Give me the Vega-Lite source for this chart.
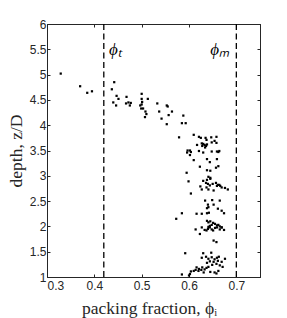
{
  "$schema": "https://vega.github.io/schema/vega-lite/v6.json",
  "width": 213,
  "height": 253,
  "autosize": "none",
  "padding": {"left": 47, "top": 24, "right": 27, "bottom": 41},
  "config": {
    "view": {"stroke": "#262626", "strokeWidth": 1},
    "axis": {
      "domainColor": "#262626",
      "tickColor": "#262626",
      "labelColor": "#262626",
      "titleColor": "#262626",
      "labelFont": "Liberation Sans",
      "labelFontSize": 12,
      "titleFont": "Liberation Serif",
      "titleFontSize": 17.5,
      "titleFontWeight": "normal",
      "grid": false,
      "tickSize": -3
    }
  },
  "datasets": {
    "pts": [
      {"x":0.329,"y":5.02},{"x":0.370,"y":4.77},{"x":0.385,"y":4.64},{"x":0.395,"y":4.67},{"x":0.437,"y":4.71},{"x":0.442,"y":4.85},{"x":0.447,"y":4.58},{"x":0.451,"y":4.52},{"x":0.440,"y":4.45},{"x":0.446,"y":4.39},{"x":0.468,"y":4.56},{"x":0.467,"y":4.43},{"x":0.472,"y":4.45},{"x":0.477,"y":4.44},{"x":0.475,"y":4.39},{"x":0.500,"y":4.62},{"x":0.500,"y":4.52},{"x":0.501,"y":4.46},{"x":0.500,"y":4.41},{"x":0.497,"y":4.39},{"x":0.499,"y":4.33},{"x":0.503,"y":4.33},{"x":0.513,"y":4.52},{"x":0.508,"y":4.27},{"x":0.510,"y":4.22},{"x":0.507,"y":4.16},{"x":0.533,"y":4.43},{"x":0.537,"y":4.27},{"x":0.542,"y":4.13},{"x":0.553,"y":4.39},{"x":0.555,"y":4.37},{"x":0.557,"y":4.20},{"x":0.564,"y":4.27},{"x":0.553,"y":4.02},{"x":0.588,"y":4.19},{"x":0.585,"y":4.04},{"x":0.593,"y":4.04},
      {"x":0.579,"y":3.76},{"x":0.610,"y":3.81},{"x":0.621,"y":3.77},{"x":0.625,"y":3.75},{"x":0.635,"y":3.75},{"x":0.647,"y":3.76},{"x":0.658,"y":3.77},{"x":0.637,"y":3.71},{"x":0.648,"y":3.66},{"x":0.654,"y":3.69},{"x":0.658,"y":3.65},{"x":0.617,"y":3.61},{"x":0.627,"y":3.64},{"x":0.630,"y":3.63},{"x":0.633,"y":3.61},{"x":0.636,"y":3.59},{"x":0.638,"y":3.62},{"x":0.634,"y":3.56},{"x":0.628,"y":3.59},{"x":0.597,"y":3.50},{"x":0.602,"y":3.50},{"x":0.596,"y":3.46},{"x":0.604,"y":3.47},{"x":0.602,"y":3.41},{"x":0.621,"y":3.49},{"x":0.630,"y":3.46},{"x":0.648,"y":3.48},{"x":0.659,"y":3.48},{"x":0.664,"y":3.49},{"x":0.662,"y":3.47},{"x":0.610,"y":3.31},{"x":0.638,"y":3.33},{"x":0.644,"y":3.27},{"x":0.659,"y":3.33},{"x":0.623,"y":3.18},{"x":0.657,"y":3.16},{"x":0.662,"y":3.19},{"x":0.638,"y":3.11},{"x":0.645,"y":3.10},{"x":0.595,"y":3.06},{"x":0.641,"y":2.98},{"x":0.645,"y":2.96},
      {"x":0.599,"y":2.89},{"x":0.630,"y":2.90},{"x":0.638,"y":2.92},{"x":0.645,"y":2.94},{"x":0.636,"y":2.86},{"x":0.640,"y":2.84},{"x":0.644,"y":2.81},{"x":0.650,"y":2.84},{"x":0.657,"y":2.86},{"x":0.661,"y":2.82},{"x":0.666,"y":2.80},{"x":0.669,"y":2.77},{"x":0.676,"y":2.76},{"x":0.682,"y":2.73},{"x":0.624,"y":2.79},{"x":0.627,"y":2.73},{"x":0.637,"y":2.77},{"x":0.641,"y":2.73},{"x":0.652,"y":2.71},{"x":0.659,"y":2.80},{"x":0.664,"y":2.82},{"x":0.604,"y":2.65},{"x":0.634,"y":2.51},{"x":0.649,"y":2.52},{"x":0.665,"y":2.51},{"x":0.640,"y":2.43},{"x":0.652,"y":2.43},{"x":0.638,"y":2.36},{"x":0.641,"y":2.38},{"x":0.661,"y":2.35},{"x":0.669,"y":2.31},{"x":0.674,"y":2.26},{"x":0.585,"y":2.26},{"x":0.616,"y":2.25},{"x":0.627,"y":2.25},{"x":0.638,"y":2.26},{"x":0.642,"y":2.27},{"x":0.573,"y":2.15},{"x":0.638,"y":2.11},{"x":0.641,"y":2.08},{"x":0.645,"y":2.10},{"x":0.648,"y":2.03},{"x":0.651,"y":2.07},{"x":0.655,"y":2.05},{"x":0.659,"y":2.02},{"x":0.662,"y":2.03},{"x":0.665,"y":2.00},{"x":0.669,"y":1.98},{"x":0.644,"y":2.01},{"x":0.641,"y":1.99},
      {"x":0.614,"y":1.94},{"x":0.627,"y":1.98},{"x":0.633,"y":1.93},{"x":0.637,"y":1.92},{"x":0.640,"y":1.95},{"x":0.644,"y":1.98},{"x":0.648,"y":1.94},{"x":0.651,"y":1.92},{"x":0.655,"y":1.97},{"x":0.659,"y":1.98},{"x":0.665,"y":1.94},{"x":0.669,"y":1.98},{"x":0.674,"y":1.93},{"x":0.623,"y":1.85},{"x":0.652,"y":1.72},{"x":0.658,"y":1.69},{"x":0.592,"y":1.47},{"x":0.630,"y":1.47},{"x":0.647,"y":1.48},{"x":0.627,"y":1.38},{"x":0.636,"y":1.40},{"x":0.641,"y":1.36},{"x":0.648,"y":1.39},{"x":0.654,"y":1.35},{"x":0.659,"y":1.38},{"x":0.663,"y":1.40},{"x":0.661,"y":1.32},{"x":0.676,"y":1.36},{"x":0.669,"y":1.30},{"x":0.652,"y":1.30},{"x":0.644,"y":1.31},{"x":0.638,"y":1.28},{"x":0.649,"y":1.24},{"x":0.658,"y":1.26},{"x":0.665,"y":1.23},{"x":0.671,"y":1.20},{"x":0.616,"y":1.19},{"x":0.621,"y":1.16},{"x":0.628,"y":1.19},{"x":0.633,"y":1.15},{"x":0.637,"y":1.18},{"x":0.641,"y":1.20},{"x":0.604,"y":1.11},{"x":0.610,"y":1.12},{"x":0.614,"y":1.14},{"x":0.620,"y":1.12},{"x":0.626,"y":1.14},{"x":0.631,"y":1.09},{"x":0.645,"y":1.10},{"x":0.654,"y":1.09},{"x":0.662,"y":1.12},{"x":0.658,"y":1.07},{"x":0.585,"y":1.05},{"x":0.600,"y":1.03},{"x":0.602,"y":1.06}
    ],
    "lines": [
      {"phi": 0.42, "label": "ϕₜ", "lx": 0.431, "ly": 5.49},
      {"phi": 0.70, "label": "ϕₘ", "lx": 0.645, "ly": 5.49}
    ]
  },
  "layer": [
    {
      "data": {"name": "pts"},
      "mark": {"type": "square", "size": 5, "color": "black", "opacity": 1},
      "encoding": {
        "x": {"field": "x", "type": "quantitative",
              "scale": {"domain": [0.3, 0.75], "nice": false, "zero": false},
              "axis": {"orient": "bottom", "values": [0.3, 0.4, 0.5, 0.6, 0.7, 0.75], "format": "~g", "title": "packing fraction, ϕᵢ", "labelPadding": 6, "titlePadding": 8, "titleX": 102,
                       "labelExpr": "datum.value == 0.75 ? '' : datum.label"}},
        "y": {"field": "y", "type": "quantitative",
              "scale": {"domain": [1, 6], "nice": false, "zero": false},
              "axis": {"orient": "left", "values": [1, 1.5, 2, 2.5, 3, 3.5, 4, 4.5, 5, 5.5, 6], "format": "~g", "title": "depth, z/D", "labelPadding": 4, "titlePadding": 4}}
      }
    },
    {
      "data": {"name": "lines"},
      "mark": {"type": "rule", "color": "black", "strokeDash": [6, 3.5], "strokeWidth": 1.3},
      "encoding": {
        "x": {"field": "phi", "type": "quantitative",
              "scale": {"domain": [0.3, 0.75], "nice": false, "zero": false},
              "axis": {"orient": "top", "values": [0.3, 0.4, 0.5, 0.6, 0.7], "labels": false, "title": null}}
      }
    },
    {
      "data": {"name": "lines"},
      "mark": {"type": "text", "align": "left", "baseline": "middle", "font": "Liberation Serif", "fontSize": 17, "fontStyle": "italic", "color": "black"},
      "encoding": {
        "x": {"field": "lx", "type": "quantitative", "scale": {"domain": [0.3, 0.75], "nice": false, "zero": false}, "axis": null},
        "y": {"field": "ly", "type": "quantitative",
              "scale": {"domain": [1, 6], "nice": false, "zero": false},
              "axis": {"orient": "right", "values": [1, 1.5, 2, 2.5, 3, 3.5, 4, 4.5, 5, 5.5, 6], "labels": false, "title": null}},
        "text": {"field": "label"}
      }
    }
  ],
  "resolve": {"axis": {"x": "independent", "y": "independent"}}
}
